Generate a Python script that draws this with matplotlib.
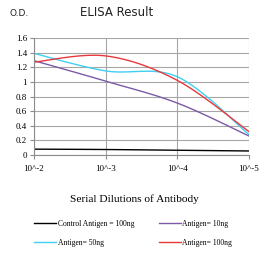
import matplotlib
matplotlib.use('Agg')
import matplotlib.pyplot as plt
import numpy as np

dilutions = ['10^-2', '10^-3', '10^-4', '10^-5']
control_100 = [0.08, 0.075, 0.065, 0.055]
antigen_10 = [1.29, 1.01, 0.71, 0.26]
antigen_50 = [1.39, 1.15, 1.07, 0.28]
antigen_100 = [1.27, 1.355, 1.02, 0.32]
y_ticks = [0, 0.2, 0.4, 0.6, 0.8, 1, 1.2, 1.4, 1.6]
y_labels = ['0', '0.2', '0.4', '0.6', '0.8', '1', '1.2', '1.4', '1.6']

series = [
    ('Control Antigen = 100ng', control_100, '#000000'),
    ('Antigen= 10ng', antigen_10, '#7b5aa6'),
    ('Antigen= 50ng', antigen_50, '#3fd0f0'),
    ('Antigen= 100ng', antigen_100, '#e8383d'),
]


def smooth(xs, ys, n=40):
    # excel-like smoothed line: bezier through points, catmull-rom controls
    p = np.column_stack([xs, ys]).astype(float)
    pts = np.vstack([p[0], p, p[-1]])
    out = []
    t = np.linspace(0, 1, n)[:, None]
    for i in range(1, len(pts) - 2):
        p0, p1, p2, p3 = pts[i - 1], pts[i], pts[i + 1], pts[i + 2]
        c1 = p1 + (p2 - p0) / 6
        c2 = p2 - (p3 - p1) / 6
        seg = ((1 - t) ** 3) * p1 + 3 * ((1 - t) ** 2) * t * c1 + 3 * (1 - t) * t ** 2 * c2 + t ** 3 * p2
        out.append(seg if i == 1 else seg[1:])
    out = np.vstack(out)
    return out[:, 0], out[:, 1]


fig = plt.figure(figsize=(2.65, 2.58), dpi=100)
ax = fig.add_axes([34 / 265, 1 - 155 / 258, 215 / 265, 117 / 258])

x = np.arange(len(dilutions))
lines = []
for name, vals, col in series:
    sx, sy = smooth(x, vals)
    ln, = ax.plot(sx, sy, color=col, lw=1.0, label=name)
    lines.append(ln)

ax.set_xlim(0, len(dilutions) - 1)
ax.set_ylim(0, 1.6)
ax.set_yticks(y_ticks)
ax.set_yticklabels(y_labels, family='Liberation Serif', fontsize=6.5)
ax.set_xticks(x)
ax.set_xticklabels(dilutions, family='Liberation Serif', fontsize=6.5)
ax.grid(True, color='#a6a6a6', lw=0.8)
ax.set_axisbelow(True)
for s in ['top', 'right']:
    ax.spines[s].set_visible(False)
for s in ['left', 'bottom']:
    ax.spines[s].set_color('#8c8c8c')
    ax.spines[s].set_linewidth(0.8)
ax.tick_params(axis='both', length=3, width=0.8, color='#8c8c8c', pad=2)
ax.tick_params(axis='x', pad=4)

fig.text(10 / 265, 1 - 13 / 258, 'O.D.', fontsize=6.5, va='center', ha='left', color='#222222')
fig.text(117 / 265, 1 - 12 / 258, 'ELISA Result', fontsize=8.5, va='center', ha='center', color='#222222')
fig.text(134 / 265, 1 - 199 / 258, 'Serial Dilutions of Antibody', family='Liberation Serif',
         fontsize=8.2, va='center', ha='center')

# legend rows: control | 10ng, then 50ng | 100ng
order = [0, 2, 1, 3]
fig.legend([lines[i] for i in order], [series[i][0] for i in order],
           loc='center', bbox_to_anchor=(133 / 265, 1 - 233.5 / 258), ncol=2, frameon=False,
           prop={'family': 'Liberation Serif', 'size': 5.5}, handlelength=2.9,
           handletextpad=0.2, columnspacing=3.2, labelspacing=1.45)

fig.savefig('out.png', dpi=100)
